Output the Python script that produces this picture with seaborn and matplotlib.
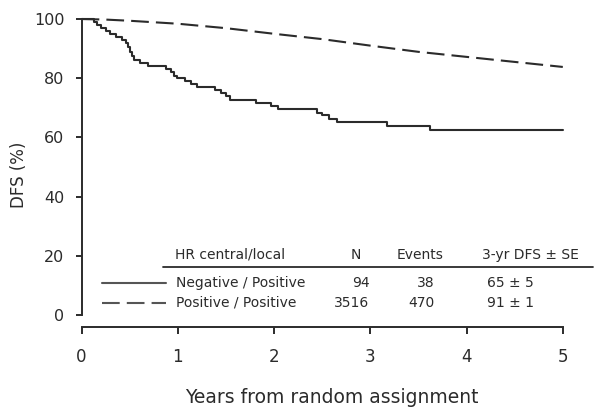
import numpy as np
import pandas as pd
import matplotlib
matplotlib.use('Agg')
import matplotlib.pyplot as plt
import seaborn as sns

# Kaplan-Meier curves (years, DFS %)
neg_time = [0.0, 0.13, 0.16, 0.20, 0.25, 0.30, 0.36, 0.42, 0.46, 0.48, 0.50, 0.52,
            0.54, 0.61, 0.69, 0.88, 0.93, 0.96, 0.99, 1.07, 1.14, 1.20, 1.39, 1.45,
            1.50, 1.54, 1.81, 1.97, 2.04, 2.45, 2.50, 2.57, 2.65, 3.17, 3.62, 5.0]
neg_dfs = [100.0, 99.0, 98.0, 97.0, 96.0, 95.0, 94.0, 93.0, 92.0, 90.5, 89.0, 87.5,
           86.3, 85.3, 84.1, 83.0, 82.0, 80.9, 79.9, 79.0, 78.0, 77.0, 76.0, 75.0,
           74.0, 72.8, 71.7, 70.6, 69.5, 68.4, 67.4, 66.3, 65.3, 64.0, 62.5, 62.5]

pos_time = [0.0, 0.25, 0.5, 1.0, 1.5, 2.0, 2.5, 3.0, 3.5, 4.0, 4.5, 5.0]
pos_dfs = [100.0, 99.8, 99.4, 98.4, 96.9, 95.0, 93.2, 91.0, 88.9, 87.2, 85.5, 83.8]

# table under the curves
table_header = ["HR central/local", "N", "Events", "3-yr DFS \u00b1 SE"]
groups = ["Negative / Positive", "Positive / Positive"]
n_patients = ["94", "3516"]
n_events = ["38", "470"]
dfs_3yr = ["65 \u00b1 5", "91 \u00b1 1"]

x_ticks = [0, 1, 2, 3, 4, 5]
y_ticks = [0, 20, 40, 60, 80, 100]

sns.set_style("ticks")
plt.rcParams['font.family'] = ['DejaVu Sans']

ink = "#2b2b2b"
lw = 1.5
dash = (8.5, 3.4)

fig = plt.figure(figsize=(6, 4.12), dpi=100)
ax = fig.add_axes([0.136, 0.2354, 0.802, 0.7185])

neg_df = pd.DataFrame({"t": neg_time, "dfs": neg_dfs})
pos_df = pd.DataFrame({"t": pos_time, "dfs": pos_dfs})
sns.lineplot(data=neg_df, x="t", y="dfs", ax=ax, color=ink, lw=lw,
             drawstyle="steps-post", estimator=None, clip_on=False)
sns.lineplot(data=pos_df, x="t", y="dfs", ax=ax, color=ink, lw=lw,
             dashes=False, estimator=None, clip_on=False)
ax.lines[-1].set_dashes(dash)

ax.set_xlim(0, 5)
ax.set_ylim(0, 100)
ax.set_xticks(x_ticks)
ax.set_yticks(y_ticks)

for side in ["top", "right"]:
    ax.spines[side].set_visible(False)
for side in ["left", "bottom"]:
    ax.spines[side].set_linewidth(1.4)
    ax.spines[side].set_color(ink)
ax.spines["bottom"].set_position(("outward", 8.5))
ax.spines["bottom"].set_bounds(0, 5)

ax.tick_params(axis="y", length=4.3, width=1.4, color=ink, pad=8,
               labelsize=11.5, labelcolor=ink)
ax.tick_params(axis="x", length=5, width=1.4, color=ink, pad=10,
               labelsize=12, labelcolor=ink)

ax.set_xlabel("Years from random assignment", fontsize=13.5, color=ink, va="center")
ax.set_ylabel("DFS (%)", fontsize=12, color=ink, va="center")
ax.xaxis.set_label_coords(0.52, -0.28)
ax.yaxis.set_label_coords(-0.13, 0.473)

# table with legend lines
fs = 10
ax.text(0.97, 20.3, table_header[0], fontsize=fs, color=ink, va="center", ha="left")
ax.text(2.85, 20.3, table_header[1], fontsize=fs, color=ink, va="center", ha="center")
ax.text(3.52, 20.3, table_header[2], fontsize=fs, color=ink, va="center", ha="center")
ax.text(4.66, 20.3, table_header[3], fontsize=fs, color=ink, va="center", ha="center")
ax.plot([0.845, 5.31], [16.2, 16.2], color=ink, lw=1.3, clip_on=False)

row_y = [10.7, 4.2]
for i in range(len(groups)):
    line, = ax.plot([0.21, 0.88], [row_y[i], row_y[i]], color="#555555", lw=lw)
    if i == 1:
        line.set_dashes(dash)
    ax.text(0.98, row_y[i], groups[i], fontsize=fs, color=ink, va="center", ha="left")
    ax.text(2.99, row_y[i], n_patients[i], fontsize=fs, color=ink, va="center", ha="right")
    ax.text(3.67, row_y[i], n_events[i], fontsize=fs, color=ink, va="center", ha="right")
    ax.text(4.21, row_y[i], dfs_3yr[i], fontsize=fs, color=ink, va="center", ha="left")

plt.savefig("out.png", dpi=100)
plt.close()
